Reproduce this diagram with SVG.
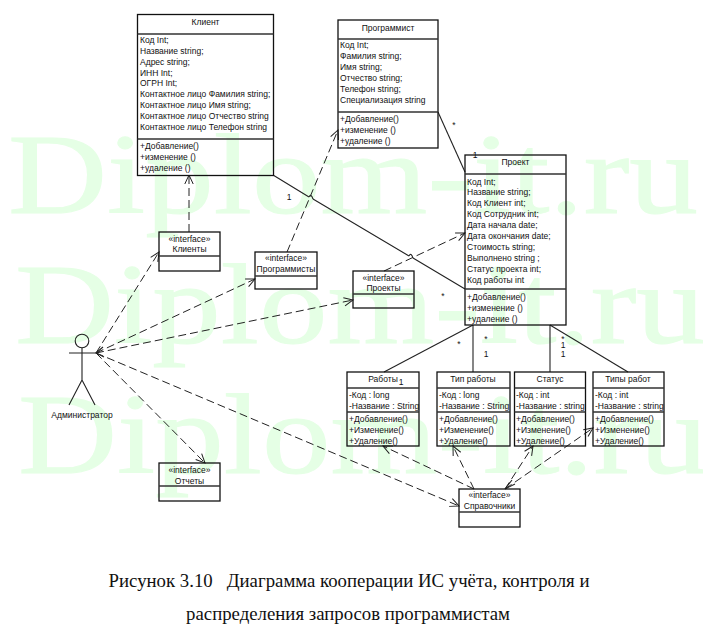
<svg xmlns="http://www.w3.org/2000/svg" width="703" height="631" viewBox="0 0 703 631">
<style>
.wm{font-family:"Liberation Serif",serif;font-size:115px;fill:#e5ffe5;stroke:#e5ffe5;stroke-width:1}
.box{fill:none;stroke:#111;stroke-width:1.3}
.div{stroke:#333;stroke-width:1.3;fill:none}
text.t{font-family:"Liberation Sans",sans-serif;font-size:8.5px;fill:#111}
.c{text-anchor:middle}
.s{stroke:#222;stroke-width:1.1;fill:none}
.d{stroke:#222;stroke-width:1;fill:none;stroke-dasharray:8 4}
.dh{marker-end:url(#a)}
.cap{font-family:"Liberation Serif",serif;font-size:18.8px;fill:#111;text-anchor:middle}
</style>
<defs>
<marker id="a" markerUnits="userSpaceOnUse" markerWidth="12" markerHeight="12" refX="10" refY="5" orient="auto"><path d="M1 0.8L10 5L1 9.2" fill="none" stroke="#222" stroke-width="1"/></marker>
</defs>
<rect width="703" height="631" fill="#fff"/>
<g id="watermark">
<text class="wm" x="8" y="213" textLength="690" lengthAdjust="spacingAndGlyphs">Diplom-it.ru</text>
<text class="wm" x="15" y="343" textLength="690" lengthAdjust="spacingAndGlyphs">Diplom-it.ru</text>
<text class="wm" x="18" y="473" textLength="690" lengthAdjust="spacingAndGlyphs">Diplom-it.ru</text>
</g>
<g id="connectors">
<path class="s" d="M273 175L309 197M313 199L409 256M413 258L465 289"/>
<path class="s" d="M309 197Q311 193 313 199M409 256Q411 252 413 258"/>
<path class="s" d="M438 112L465 172"/>
<path class="s" d="M473 325L384 372"/>
<path class="s" d="M473 325V372"/>
<path class="s" d="M550 325V372"/>
<path class="s" d="M550 325L628 372"/>
<path class="d dh" d="M189 232V175"/>
<path class="d dh" d="M287 252L338 130"/>
<path class="d dh" d="M384 271L465 233"/>
<path class="d dh" d="M96 353L159 252"/>
<path class="d dh" d="M96 353L255 279"/>
<path class="d dh" d="M96 353L353 300"/>
<path class="d dh" d="M96 353L205 463"/>
<path class="d dh" d="M96 353L459 506"/>
<path class="d dh" d="M474 489L383 446"/>
<path class="d dh" d="M474 489L453 446"/>
<path class="d dh" d="M505 489L533 446"/>
<path class="d dh" d="M505 489L593 428"/>
<path class="s" d="M103 347L96 353L104 357" stroke-width="1"/>
<path class="s" d="M505 489L515 484M505 489L512 480"/>
</g>
<g id="labels">
<text class="t c" x="289" y="200">1</text>
<text class="t c" x="454" y="128">*</text>
<text class="t c" x="475" y="158">1</text>
<text class="t c" x="443" y="299">*</text>
<text class="t c" x="459" y="347">*</text>
<text class="t c" x="486" y="342">*</text>
<text class="t c" x="486" y="357">1</text>
<text class="t c" x="563" y="342">*</text>
<text class="t c" x="563" y="348">1</text>
<text class="t c" x="563" y="357">1</text>
<text class="t c" x="401" y="385">1</text>
</g>
<g id="klient">
<rect class="box" x="137.5" y="14.5" width="136" height="161"/>
<path class="div" d="M137.5 34H273.5M137.5 139H273.5"/>
<text class="t c" x="205.500" y="25">Клиент</text>
<text class="t" x="140" y="43">Код Int;</text>
<text class="t" x="140" y="54">Название string;</text>
<text class="t" x="140" y="65">Адрес string;</text>
<text class="t" x="140" y="76">ИНН Int;</text>
<text class="t" x="140" y="86">ОГРН Int;</text>
<text class="t" x="140" y="97">Контактное лицо Фамилия string;</text>
<text class="t" x="140" y="108">Контактное лицо Имя string;</text>
<text class="t" x="140" y="119">Контактное лицо Отчество string</text>
<text class="t" x="140" y="130">Контактное лицо Телефон string</text>
<text class="t" x="140" y="149">+Добавление()</text>
<text class="t" x="140" y="160">+изменение ()</text>
<text class="t" x="140" y="171">+удаление ()</text>
</g>
<g id="programmist">
<rect class="box" x="338" y="20" width="100" height="128"/>
<path class="div" d="M338 39H438M338 112H438"/>
<text class="t c" x="388" y="31">Программист</text>
<text class="t" x="340" y="48">Код Int;</text>
<text class="t" x="340" y="59">Фамилия string;</text>
<text class="t" x="340" y="70">Имя string;</text>
<text class="t" x="340" y="81">Отчество string;</text>
<text class="t" x="340" y="92">Телефон string;</text>
<text class="t" x="340" y="103">Специализация string</text>
<text class="t" x="340" y="122">+Добавление()</text>
<text class="t" x="340" y="133">+изменение ()</text>
<text class="t" x="340" y="144">+удаление ()</text>
</g>
<g id="proekt">
<rect class="box" x="465" y="155" width="101" height="170"/>
<path class="div" d="M465 174H566M465 289H566"/>
<text class="t c" x="515.500" y="165">Проект</text>
<text class="t" x="467" y="185">Код Int;</text>
<text class="t" x="467" y="195">Название string;</text>
<text class="t" x="467" y="206">Код Клиент int;</text>
<text class="t" x="467" y="217">Код Сотрудник int;</text>
<text class="t" x="467" y="228">Дата начала date;</text>
<text class="t" x="467" y="239">Дата окончания date;</text>
<text class="t" x="467" y="250">Стоимость string;</text>
<text class="t" x="467" y="261">Выполнено string ;</text>
<text class="t" x="467" y="272">Статус проекта int;</text>
<text class="t" x="467" y="283">Код работы int</text>
<text class="t" x="467" y="300">+Добавление()</text>
<text class="t" x="467" y="311">+изменение ()</text>
<text class="t" x="467" y="322">+удаление ()</text>
</g>
<g id="raboty">
<rect class="box" x="347" y="372" width="72" height="74"/>
<path class="div" d="M347 388H419M347 412H419"/>
<text class="t c" x="383" y="382">Работы</text>
<text class="t" x="349" y="398">-Код : long</text>
<text class="t" x="349" y="409">-Название : String</text>
<text class="t" x="349" y="422">+Добавление()</text>
<text class="t" x="349" y="433">+Изменение()</text>
<text class="t" x="349" y="444">+Удаление()</text>
</g>
<g id="tip-raboty">
<rect class="box" x="437" y="372" width="73" height="74"/>
<path class="div" d="M437 388H510M437 412H510"/>
<text class="t c" x="473" y="382">Тип работы</text>
<text class="t" x="439" y="398">-Код : long</text>
<text class="t" x="439" y="409">-Название : String</text>
<text class="t" x="439" y="422">+Добавление()</text>
<text class="t" x="439" y="433">+Изменение()</text>
<text class="t" x="439" y="444">+Удаление()</text>
</g>
<g id="status">
<rect class="box" x="514.500" y="372" width="71" height="74"/>
<path class="div" d="M514.500 388H585.500M514.500 412H585.500"/>
<text class="t c" x="550" y="382">Статус</text>
<text class="t" x="516" y="398">-Код : int</text>
<text class="t" x="516" y="409">-Название : string</text>
<text class="t" x="516" y="422">+Добавление()</text>
<text class="t" x="516" y="433">+Изменение()</text>
<text class="t" x="516" y="444">+Удаление()</text>
</g>
<g id="tipy-rabot">
<rect class="box" x="593" y="372" width="71" height="74"/>
<path class="div" d="M593 388H664M593 412H664"/>
<text class="t c" x="628" y="382">Типы работ</text>
<text class="t" x="595" y="398">-Код : int</text>
<text class="t" x="595" y="409">-Название : string</text>
<text class="t" x="595" y="422">+Добавление()</text>
<text class="t" x="595" y="433">+Изменение()</text>
<text class="t" x="595" y="444">+Удаление()</text>
</g>
<g id="i-klienty">
<rect class="box" x="159" y="232" width="61" height="39"/>
<path class="div" d="M159 256H220"/>
<text class="t c" x="189.500" y="242">«interface»</text>
<text class="t c" x="189.500" y="252">Клиенты</text>
</g>
<g id="i-programmisty">
<rect class="box" x="255" y="252" width="62" height="37"/>
<path class="div" d="M255 276H317"/>
<text class="t c" x="286" y="261">«interface»</text>
<text class="t c" x="286" y="272">Программисты</text>
</g>
<g id="i-proekty">
<rect class="box" x="353" y="271" width="61" height="37"/>
<path class="div" d="M353 294H414"/>
<text class="t c" x="383.500" y="281">«interface»</text>
<text class="t c" x="383.500" y="291">Проекты</text>
</g>
<g id="i-otchety">
<rect class="box" x="159" y="463" width="61" height="38"/>
<path class="div" d="M159 486H220"/>
<text class="t c" x="189.500" y="473">«interface»</text>
<text class="t c" x="189.500" y="484">Отчеты</text>
</g>
<g id="i-spravochniki">
<rect class="box" x="459" y="489" width="61" height="38"/>
<path class="div" d="M459 512H520"/>
<text class="t c" x="489.500" y="498">«interface»</text>
<text class="t c" x="489.500" y="509">Справочники</text>
</g>
<g id="actor">
<circle cx="82" cy="341" r="6.800" fill="none" stroke="#222" stroke-width="1.1"/>
<path class="s" d="M82 348V380M69 353H96M82 380L69 405M82 380L95 405"/>
<text class="t c" x="82" y="418">Администратор</text>
</g>
<g id="caption">
<text class="cap" x="349" y="587" xml:space="preserve">Рисунок 3.10   Диаграмма кооперации ИС учёта, контроля и</text>
<text class="cap" x="348" y="620">распределения запросов программистам</text>
</g>
</svg>
